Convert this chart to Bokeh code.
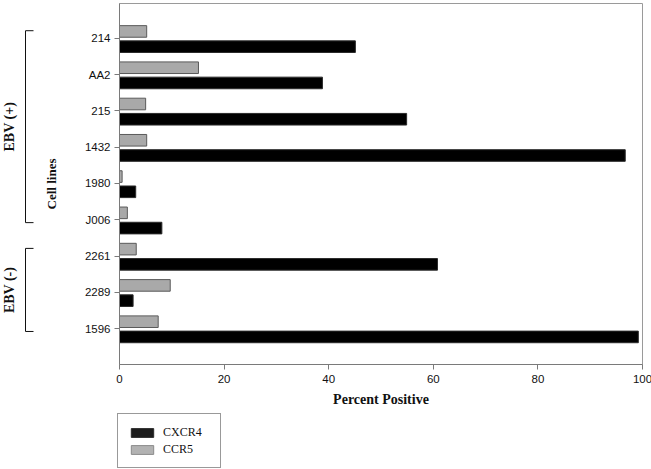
import math
from bokeh.plotting import figure
from bokeh.layouts import row, column
from bokeh.models import (ColumnDataSource, Range1d, FixedTicker, Legend, LegendItem)
from bokeh.transform import dodge
from bokeh.embed import file_html
from bokeh.resources import INLINE

cell_lines = ["214", "AA2", "215", "1432", "1980", "J006", "2261", "2289", "1596"]
cxcr4 = [45.1, 38.8, 54.9, 96.7, 3.1, 8.1, 60.8, 2.6, 99.2]
ccr5 = [5.2, 15.1, 5.0, 5.2, 0.5, 1.5, 3.2, 9.7, 7.4]
x_ticks = [0, 20, 40, 60, 80, 100]
series_names = ["CXCR4", "CCR5"]
group_names = ["EBV (+)", "EBV (-)"]
group_first = [0, 6]
group_last = [5, 8]

pos = list(range(len(cell_lines)))
src = ColumnDataSource(dict(pos=pos, cxcr4=cxcr4, ccr5=ccr5))

SERIF = "Liberation Serif"
SANS = "Liberation Sans"
INK = "#111111"
CX_FILL, CX_LINE = "#000000", "#2a2a2a"
CC_FILL, CC_LINE = "#a9a9a9", "#5a5a5a"

TOP, FH, BOTTOM = 3, 361, 46
LEFT_W = 40
TOTAL_W = 651
LEG_H = 59

y_range = Range1d(len(cell_lines) - 1 + 0.99, -0.96)

# ---- main chart ----
p = figure(width=TOTAL_W - LEFT_W, height=TOP + FH + BOTTOM, frame_width=523, frame_height=FH,
           output_backend="svg", toolbar_location=None,
           x_range=Range1d(0, 100), y_range=y_range,
           min_border_left=118 - LEFT_W, min_border_right=10,
           min_border_top=TOP, min_border_bottom=BOTTOM)

r_cx = p.hbar(y=dodge("pos", 0.23, range=p.y_range), right="cxcr4", left=0, height=0.32,
              source=src, fill_color=CX_FILL, line_color=CX_LINE, line_width=1)
r_cc = p.hbar(y=dodge("pos", -0.19, range=p.y_range), right="ccr5", left=0, height=0.32,
              source=src, fill_color=CC_FILL, line_color=CC_LINE, line_width=1)

p.xgrid.visible = False
p.ygrid.visible = False
p.outline_line_color = "#9a9a9a"
p.outline_line_width = 1

xa = p.xaxis[0]
xa.ticker = FixedTicker(ticks=x_ticks)
xa.minor_tick_line_color = None
xa.major_tick_in = 0
xa.major_tick_out = 5
xa.axis_line_color = "#7a7a7a"
xa.major_tick_line_color = "#7a7a7a"
xa.major_label_text_font = SANS
xa.major_label_text_font_size = "11.5px"
xa.major_label_text_color = INK
xa.major_label_standoff = 5
xa.axis_label = "Percent Positive"
xa.axis_label_text_font = SERIF
xa.axis_label_text_font_style = "bold"
xa.axis_label_text_font_size = "14px"
xa.axis_label_text_color = INK
xa.axis_label_standoff = 6

ya = p.yaxis[0]
ya.ticker = FixedTicker(ticks=pos)
ya.major_label_overrides = {i: c for i, c in enumerate(cell_lines)}
ya.minor_tick_line_color = None
ya.major_tick_in = 0
ya.major_tick_out = 5
ya.axis_line_color = "#7a7a7a"
ya.major_tick_line_color = "#7a7a7a"
ya.major_label_text_font = SANS
ya.major_label_text_font_size = "11.5px"
ya.major_label_text_color = INK
ya.major_label_standoff = 4
ya.axis_label = "Cell lines"
ya.axis_label_text_font = SERIF
ya.axis_label_text_font_style = "bold"
ya.axis_label_text_font_size = "13px"
ya.axis_label_text_color = INK
ya.axis_label_standoff = 23

# ---- left strip with group brackets ----
g = figure(width=LEFT_W, height=TOP + FH + BOTTOM, frame_width=LEFT_W, frame_height=FH,
           output_backend="svg", toolbar_location=None,
           x_range=Range1d(0, LEFT_W), y_range=y_range,
           x_axis_type=None, y_axis_type=None,
           min_border_left=0, min_border_right=0,
           min_border_top=TOP, min_border_bottom=BOTTOM)
g.outline_line_color = None
g.xgrid.visible = False
g.ygrid.visible = False

tops = [f - 0.21 for f in group_first]
bots = [l + 0.08 for l in group_last]
mids = [(t + b) / 2 for t, b in zip(tops, bots)]
xs, ys = [], []
for t, b in zip(tops, bots):
    xs.append([33, 25, 25, 33])
    ys.append([t, t, b, b])
g.multi_line(xs=xs, ys=ys, line_color=INK, line_width=1)
g.text(x=[9] * len(group_names), y=mids, text=group_names, angle=math.pi / 2,
       text_align="center", text_baseline="middle",
       text_font={"value": SERIF}, text_font_style="bold", text_font_size="14px",
       text_color=INK)

# ---- legend strip below (its bars lie entirely outside its own visible ranges) ----
lf = figure(width=TOTAL_W, height=LEG_H, frame_width=TOTAL_W, frame_height=LEG_H,
            output_backend="svg", toolbar_location=None,
            x_range=Range1d(-5100, -5000), y_range=Range1d(2000, 2010),
            x_axis_type=None, y_axis_type=None,
            min_border_left=0, min_border_right=0, min_border_top=0, min_border_bottom=0)
lf.outline_line_color = None
lf.xgrid.visible = False
lf.ygrid.visible = False
l_cx = lf.hbar(y="pos", right="cxcr4", left=0, height=0.32, source=src,
               fill_color="#1c1c1c", line_color=CX_LINE)
l_cc = lf.hbar(y="pos", right="ccr5", left=0, height=0.32, source=src,
               fill_color="#b2b2b2", line_color="#8a8a8a")
legend = Legend(items=[LegendItem(label=series_names[0], renderers=[l_cx]),
                       LegendItem(label=series_names[1], renderers=[l_cc])],
                location=(117, 1), orientation="vertical",
                glyph_width=28, glyph_height=11, label_height=16, label_width=47,
                label_standoff=7, spacing=1, padding=10, margin=0,
                label_text_font=SERIF, label_text_font_size="12px",
                label_text_color=INK,
                border_line_color="#333333", border_line_width=1,
                background_fill_color="white", background_fill_alpha=1)
lf.add_layout(legend, "center")

layout = column(row(g, p, spacing=0), lf, spacing=0)
open("out.html", "w").write(file_html(layout, INLINE))
